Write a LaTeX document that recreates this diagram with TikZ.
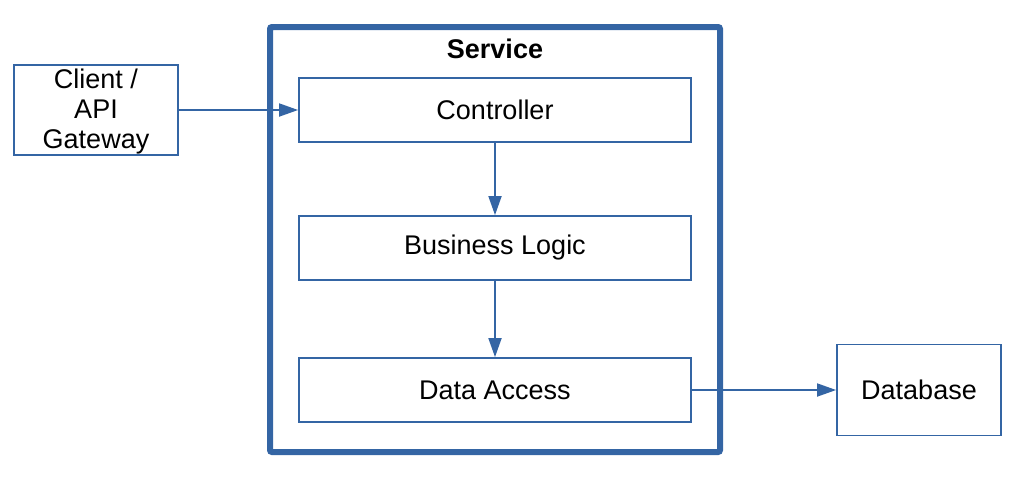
\documentclass[tikz,border=0pt]{standalone}
\usepackage{fontspec}
\setmainfont{Liberation Sans}
\usetikzlibrary{arrows.meta}
\definecolor{lblue}{HTML}{3465A4}
\begin{document}
\begin{tikzpicture}[x=1pt,y=-1pt,
  box/.style={draw=lblue,line width=1.8pt,fill=white,inner sep=0pt,font=\fontsize{27}{30}\selectfont},
  conn/.style={draw=lblue,line width=1.8pt,-{Triangle[length=19pt,width=13pt]}}]
\useasboundingbox (0,0) rectangle (1018,480);
\node[draw=lblue,line width=6pt,rounded corners=2pt,minimum width=450pt,minimum height=425pt,inner sep=0pt] (svc) at (495,239.5) {};
\node[font=\bfseries\fontsize{27}{30}\selectfont] (svct) at (495,49) {Service};
\node[box,minimum width=392pt,minimum height=64pt] (ctrl) at (495,110) {Controller};
\node[box,minimum width=392pt,minimum height=64pt] (bl) at (495,248) {Business Logic};
\node[box,minimum width=392pt,minimum height=64pt] (da) at (495,390) {Data Access};
\node[box,minimum width=164pt,minimum height=90pt] (cl) at (96,110) {};
\node[font=\fontsize{27}{30}\selectfont,align=center,inner sep=0pt] (clt) at (96,112) {Client /\\API\\Gateway};
\node[box,minimum width=164pt,minimum height=91pt] (db) at (919,390) {Database};
\draw[conn] (cl.east) -- (ctrl.west);
\draw[conn] (ctrl.south) -- (bl.north);
\draw[conn] (bl.south) -- (da.north);
\draw[conn] (da.east) -- (db.west);
\end{tikzpicture}
\end{document}
